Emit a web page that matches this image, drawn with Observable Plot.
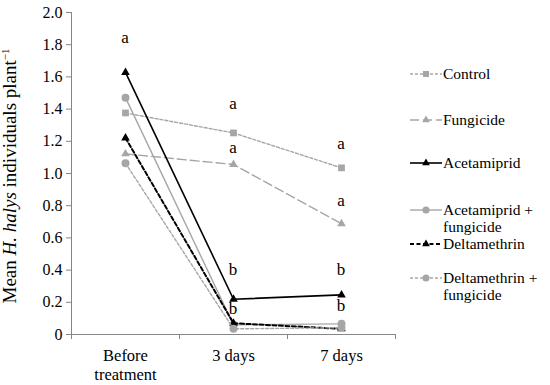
<!DOCTYPE html>
<html><head><meta charset="utf-8">
<script src="https://cdn.jsdelivr.net/npm/d3@7"></script>
<script src="https://cdn.jsdelivr.net/npm/@observablehq/plot@0.6"></script>
<style>
html,body{margin:0;padding:0;background:#fff;}
#chart{width:550px;height:385px;}
#chart svg, #chart svg text{font-family:"Liberation Serif","Times New Roman",serif !important;}
</style></head><body><div id="chart"></div>
<script>
// ---- data ----
const categories = ["Before\ntreatment", "3 days", "7 days"];
const seriesNames = ["Control", "Fungicide", "Acetamiprid", "Acetamiprid +\nfungicide", "Deltamethrin", "Deltamethrin +\nfungicide"];
const control = [1.376, 1.252, 1.035];
const fungicide = [1.122, 1.056, 0.688];
const acetamiprid = [1.628, 0.219, 0.246];
const acetamipridFungicide = [1.471, 0.060, 0.066];
const deltamethrin = [1.221, 0.070, 0.035];
const deltamethrinFungicide = [1.064, 0.035, 0.042];
const yTicks = [0, 0.2, 0.4, 0.6, 0.8, 1.0, 1.2, 1.4, 1.6, 1.8, 2.0];
const letterCategory = [0, 1, 1, 1, 1, 2, 2, 2, 2];
const letterValue = [1.84, 1.43, 1.16, 0.40, 0.16, 1.18, 0.83, 0.40, 0.175];
const letterText = ["a", "a", "a", "b", "b", "a", "a", "b", "b"];

// ---- styles / layout ----
const GRAY = "#a6a6a6", AXIS = "#868686";
const FONT = "Liberation Serif, Times New Roman, serif";
const styles = [
  {stroke: GRAY, dash: "3,2", symbol: "square", r: 3.8, width: 1.4},
  {stroke: GRAY, dash: "9,4", symbol: "triangle", r: 3.2, width: 1.4},
  {stroke: "#000", dash: null, symbol: "triangle", r: 3.2, width: 1.6},
  {stroke: GRAY, dash: null, symbol: "circle", r: 4, width: 1.4},
  {stroke: "#000", dash: "4,2.5", symbol: "triangle", r: 3.2, width: 2},
  {stroke: GRAY, dash: "3,2", symbol: "circle", r: 4, width: 1.4}
];
const letterDx = [0, 0, 0, 0, 14, 0, 0, 0, 0];
const legendY = [74, 120, 163, 210, 244, 278];

const seriesValues = [control, fungicide, acetamiprid, acetamipridFungicide, deltamethrin, deltamethrinFungicide];
const letters = letterText.map((t, i) => ({x: letterCategory[i], y: letterValue[i], t, dx: letterDx[i]}));
const boundaries = d3.range(categories.length + 1).map(i => i - 0.5);

const marks = [
  Plot.ruleY([0], {stroke: AXIS}),
  Plot.ruleX([boundaries[0]], {stroke: AXIS}),
  Plot.axisY({ticks: yTicks, tickFormat: d => d === 0 ? "0" : d.toFixed(1), tickSize: 5, tickPadding: 4, fontSize: 16, fontFamily: FONT, stroke: AXIS, fill: "#000", label: null}),
  Plot.axisX({ticks: boundaries, tickFormat: () => "", tickSize: 5, stroke: AXIS, label: null}),
  Plot.axisX({ticks: d3.range(categories.length), tickFormat: i => categories[i], tickSize: 0, tickPadding: 12, fontSize: 16.5, fontFamily: FONT, lineHeight: 1.2, fill: "#000", label: null})
];
seriesValues.forEach((vals, s) => {
  const st = styles[s];
  const rows = vals.map((v, j) => ({x: j, y: v}));
  marks.push(Plot.line(rows, {x: "x", y: "y", stroke: st.stroke, strokeWidth: st.width, strokeDasharray: st.dash}));
  marks.push(Plot.dot(rows, {x: "x", y: "y", symbol: st.symbol, r: st.r, fill: st.stroke, stroke: "none"}));
});
marks.push(Plot.text(letters, {x: "x", y: "y", text: "t", dx: "dx", fontSize: 17, fontFamily: FONT, fill: "#000"}));

const svg = Plot.plot({
  width: 550, height: 385,
  marginLeft: 71, marginRight: 155, marginTop: 12, marginBottom: 51,
  style: "font-family: Liberation Serif, Times New Roman, serif; background: #fff; color: #000;",
  x: {type: "linear", domain: [boundaries[0], boundaries[boundaries.length - 1]]},
  y: {type: "linear", domain: [0, 2]},
  marks
});
document.getElementById("chart").appendChild(svg);

// ---- y-axis title with italics and superscript ----
const s = d3.select(svg);
const yt = s.append("text")
  .attr("transform", "translate(16,176) rotate(-90)")
  .style("text-anchor", "middle")
  .style("font-family", FONT).style("font-size", "19px").attr("fill", "#000");
yt.append("tspan").text("Mean ");
yt.append("tspan").style("font-style", "italic").text("H. halys");
yt.append("tspan").text(" individuals plant");
yt.append("tspan").style("font-size", "11px").attr("dy", -7).text("\u22121");

// ---- legend ----
const lg = s.append("g").style("font-family", FONT).style("font-size", "15.5px").style("text-anchor", "start");
const symbolType = {square: d3.symbolSquare, triangle: d3.symbolTriangle, circle: d3.symbolCircle};
seriesNames.forEach((name, i) => {
  const st = styles[i], y = legendY[i];
  const ln = lg.append("line").attr("x1", 410).attr("x2", 442).attr("y1", y).attr("y2", y)
    .attr("stroke", st.stroke).attr("stroke-width", st.width);
  if (st.dash) ln.attr("stroke-dasharray", st.dash);
  lg.append("path").attr("transform", `translate(426,${y})`)
    .attr("d", d3.symbol(symbolType[st.symbol], Math.PI * st.r * st.r * 0.8)())
    .attr("fill", st.stroke);
  const t = lg.append("text").attr("x", 443).attr("y", y).attr("fill", "#000").style("text-anchor", "start");
  name.split("\n").forEach((line, k) => {
    t.append("tspan").attr("x", 443).attr("dy", k === 0 ? "0.32em" : "1.08em").text(line);
  });
});
</script>
</body></html>
